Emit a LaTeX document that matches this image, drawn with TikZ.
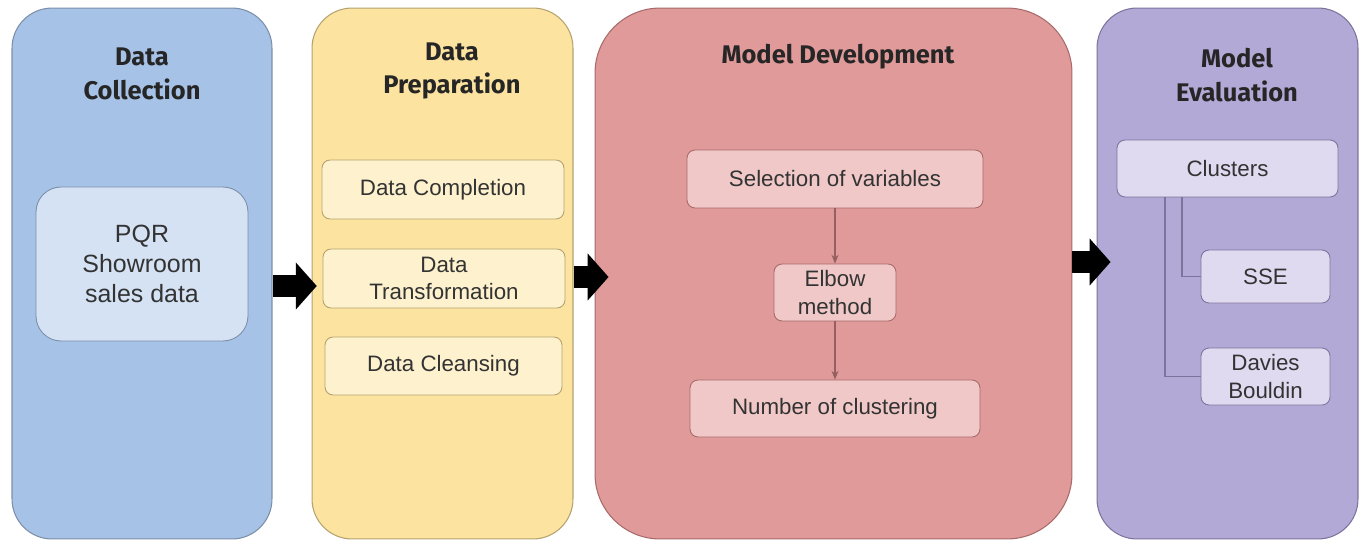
\documentclass[tikz,border=0pt]{standalone}
\usepackage{fontspec}
\setmainfont{Liberation Sans}
\newfontfamily\headfont{Fira Sans}
\usepackage{xcolor}
\usetikzlibrary{arrows.meta, positioning}

\definecolor{bluepanel}{HTML}{A6C3E7}
\definecolor{blueline}{HTML}{7C8FA8}
\definecolor{blueinner}{HTML}{D5E2F4}
\definecolor{yellowpanel}{HTML}{FCE3A0}
\definecolor{yellowline}{HTML}{B5A26E}
\definecolor{yellowinner}{HTML}{FDF1CE}
\definecolor{redpanel}{HTML}{E09A9A}
\definecolor{redline}{HTML}{A86A6A}
\definecolor{redinner}{HTML}{F0C8C8}
\definecolor{purplepanel}{HTML}{B3A9D6}
\definecolor{purpleline}{HTML}{7D739C}
\definecolor{purpleinner}{HTML}{E0DAF0}

\begin{document}
\begin{tikzpicture}[
    x=0.02cm, y=-0.02cm,
    panel/.style={
        rectangle, draw, line width=0.6pt,
        rounded corners=0.8cm, minimum width=5.2cm, minimum height=10.62cm
    },
    title/.style={
        font=\headfont\bfseries\fontsize{14.5}{19.3}\selectfont,
        text=black!85, align=center
    },
    inner/.style={
        rectangle, draw, line width=0.5pt, rounded corners=0.16cm,
        minimum height=1.16cm, align=center, text=black!80,
        font=\fontsize{12.7}{15.6}\selectfont, inner sep=1pt
    },
    blockarrow/.style={line width=0.44cm, -{Triangle[length=0.42cm, width=0.92cm]}},
    flow/.style={-{Stealth[length=5pt, width=4pt]}, redline!90!black, line width=0.6pt},
    tree/.style={purpleline, line width=0.7pt}
]
    \useasboundingbox (0,0) rectangle (1361,541);

    % the four stage panels
    \node[panel, fill=bluepanel, draw=blueline] (collect) at (142,273.5) {};
    \node[panel, fill=yellowpanel, draw=yellowline, minimum width=5.22cm] (prepare) at (442.5,273.5) {};
    \node[panel, fill=redpanel, draw=redline, minimum width=9.54cm, rounded corners=1.3cm] (develop) at (833.5,273.5) {};
    \node[panel, fill=purplepanel, draw=purpleline, minimum width=5.22cm] (evaluate) at (1227.5,273.5) {};

    \node[title] (collecttitle) at (142,74) {Data\\Collection};
    \node[title] (preparetitle) at (452,71) {Data\\Preparation};
    \node[title] (developtitle) at (838,57) {Model Development};
    \node[title] (evaluatetitle) at (1237,75) {Model\\Evaluation};

    % data collection
    \node[inner, fill=blueinner, draw=blueline, rounded corners=0.5cm,
          minimum width=4.24cm, minimum height=3.08cm,
          font=\fontsize{14.2}{17.3}\selectfont] (pqr) at (142,264) {PQR\\Showroom\\sales data};

    % data preparation
    \node[inner, fill=yellowinner, draw=yellowline, minimum width=4.84cm, minimum height=1.18cm] (completion) at (443,189.5) {Data Completion};
    \node[inner, fill=yellowinner, draw=yellowline, minimum width=4.84cm, minimum height=1.18cm] (transform) at (444,278.5) {Data\\Transformation};
    \node[inner, fill=yellowinner, draw=yellowline, minimum width=4.74cm] (cleansing) at (443.5,366) {Data Cleansing};

    % model development
    \node[inner, fill=redinner, draw=redline, minimum width=5.92cm] (selection) at (835,179) {Selection of variables};
    \node[inner, fill=redinner, draw=redline, minimum width=2.44cm, minimum height=1.14cm] (elbow) at (835,292.5) {Elbow\\method};
    \node[inner, fill=redinner, draw=redline, minimum width=5.8cm, minimum height=1.14cm] (numclust) at (835,408.5) {Number of clustering};

    % model evaluation
    \node[inner, fill=purpleinner, draw=purpleline, minimum width=4.42cm, minimum height=1.14cm] (clusters) at (1227.5,168.5) {Clusters};
    \node[inner, fill=purpleinner, draw=purpleline, minimum width=2.58cm, minimum height=1.06cm] (sse) at (1265.5,276.5) {SSE};
    \node[inner, fill=purpleinner, draw=purpleline, minimum width=2.58cm, minimum height=1.14cm] (davies) at (1265.5,376.5) {Davies\\Bouldin};

    \draw[flow] (selection) -- (elbow);
    \draw[flow] (elbow) -- (numclust);
    \draw[tree] ([xshift=-0.91cm]clusters.south) |- (sse.west);
    \draw[tree] ([xshift=-1.25cm]clusters.south) |- (davies.west);

    \draw[blockarrow] ([yshift=-0.25cm]collect.east) -- ([yshift=-0.25cm, xshift=3pt]prepare.west);
    \draw[blockarrow] ([yshift=-0.07cm]prepare.east) -- ([yshift=-0.07cm, xshift=8pt]develop.west);
    \draw[blockarrow] ([yshift=0.23cm]develop.east) -- ([yshift=0.23cm, xshift=8pt]evaluate.west);
\end{tikzpicture}
\end{document}
